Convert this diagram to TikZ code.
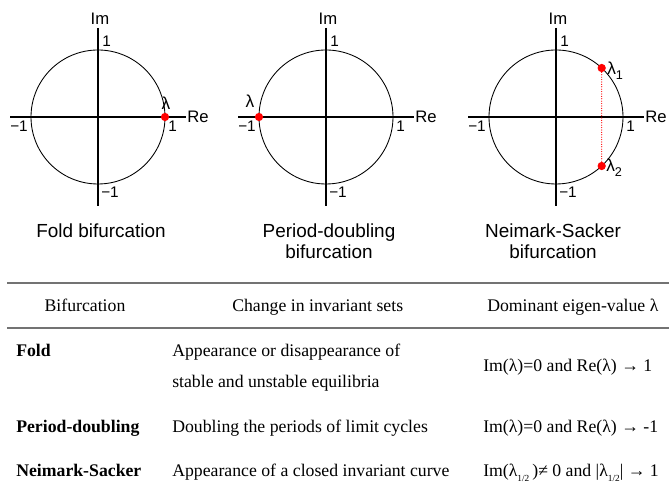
\documentclass[tikz,border=0pt]{standalone}
\usepackage{fontspec}
\setmainfont{Liberation Serif}
\setsansfont{Liberation Sans}
\usepackage{tikz}
\usetikzlibrary{calc}
\usetikzlibrary{positioning}

\newcommand{\lamhalf}{λ\raisebox{-0.55ex}{\fontsize{7}{7}\selectfont 1/2}}
\newcommand{\lamsub}[1]{λ\raisebox{-0.45ex}{\fontsize{9.5}{9.5}\selectfont #1}}

\begin{document}
\begin{tikzpicture}[
  x=0.75pt, y=-0.75pt,
  axis/.style={line width=1.6pt},
  unitcirc/.style={line width=0.65pt},
  root/.style={circle, fill=red, inner sep=0pt, minimum size=6.2pt},
  axlbl/.style={font=\sffamily\fontsize{12.5}{12.5}\selectfont, inner sep=0pt},
  ticklbl/.style={font=\sffamily\fontsize{11.5}{11.5}\selectfont, inner sep=0pt},
  eiglbl/.style={font=\sffamily\fontsize{13}{13}\selectfont, inner sep=0pt},
  caption/.style={font=\sffamily\fontsize{14.2}{15.75}\selectfont, align=center, inner sep=0pt},
  cell/.style={font=\fontsize{13.3}{16}\selectfont, inner sep=0pt, anchor=base west},
  rule/.style={draw=black!55, line width=1.4pt},
  pair/.style={draw=red, line width=0.9pt, line cap=round, dash pattern=on 0pt off 1.8pt}
]
\useasboundingbox (0,0) rectangle (669,498);

%% ── Unit circles and axes ──────────────────────────────────────────
\foreach \cx/\n in {98/a, 326/b, 556/c} {
  \coordinate (o\n) at (\cx,117);
  \draw[unitcirc] (o\n) circle[radius=67];
  \draw[axis] (\cx-88,117) -- (\cx+88,117);
  \draw[axis] (\cx,28) -- (\cx,206);
  \node[axlbl, anchor=south]        (im\n)  at (\cx+2,25)   {Im};
  \node[axlbl, anchor=west]         (re\n)  at (\cx+89,117) {Re};
  \node[ticklbl, anchor=south west] (t\n)   at (\cx+4,47)   {1};
  \node[ticklbl, anchor=north west] (b\n)   at (\cx+3,187)  {−1};
  \node[ticklbl, anchor=north east] (l\n)   at (\cx-70,121) {−1};
  \node[ticklbl, anchor=north west] (r\n)   at (\cx+70,121) {1};
}

%% ── Eigenvalues ────────────────────────────────────────────────────
\node[root] (fold) at (165,117) {};
\node[eiglbl, anchor=base] at (166,110) {λ};

\node[root] (pd) at (259,117) {};
\node[eiglbl, anchor=base] at (250,108) {λ};

\node[root] (ns1) at ($(oc)+(47:67 and -67)$) {};
\node[root] (ns2) at ($(oc)+(-47:67 and -67)$) {};
\draw[pair] (ns1) -- (ns2);
\node[eiglbl, anchor=base west] at (607,75)  {\lamsub{1}};
\node[eiglbl, anchor=base west] at (606,172) {\lamsub{2}};

%% ── Captions ───────────────────────────────────────────────────────
\node[caption] (capa) at (101,230.5) {Fold bifurcation};
\node[caption] (capb) at (329,241.5) {Period-doubling\\bifurcation};
\node[caption] (capc) at (553,241.5) {Neimark-Sacker\\bifurcation};

%% ── Table ──────────────────────────────────────────────────────────
\draw[rule] (7,283) -- (669,283);
\draw[rule] (7,328) -- (669,328);

\node[cell, anchor=base] (hbif) at (85,312)  {Bifurcation};
\node[cell] (hchg) at (232,312) {Change in invariant sets};
\node[cell] (heig) at (487,312) {Dominant eigen-value λ};

\node[cell] (bif1)  at (16,357)  {\textbf{Fold}};
\node[cell] (chg1)  at (172,357) {Appearance or disappearance of};
\node[cell] (chg1b) at (172,388) {stable and unstable equilibria};
\node[cell] (eig1)  at (483,372) {Im(λ)=0 and Re(λ) → 1};

\node[cell] (bif2) at (16,433)  {\textbf{Period-doubling}};
\node[cell] (chg2) at (172,433) {Doubling the periods of limit cycles};
\node[cell] (eig2) at (483,433) {Im(λ)=0 and Re(λ) → -1};

\node[cell] (bif3) at (16,477)  {\textbf{Neimark-Sacker}};
\node[cell] (chg3) at (172,477) {Appearance of a closed invariant curve};
\node[cell] (eig3) at (483,477) {Im(\lamhalf\,)≠ 0 and |\lamhalf| → 1};

\end{tikzpicture}
\end{document}
